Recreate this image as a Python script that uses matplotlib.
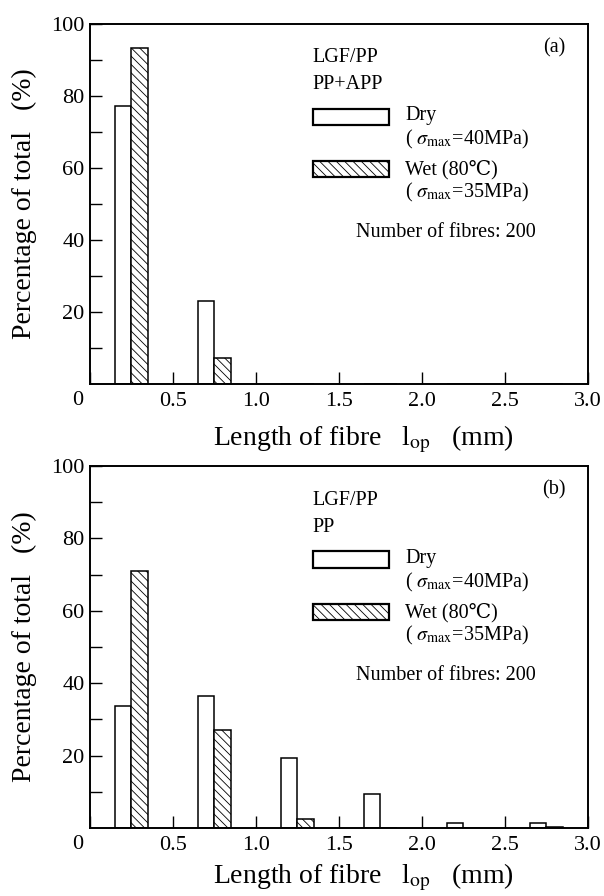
import numpy as np
import matplotlib
matplotlib.use('Agg')
import matplotlib.pyplot as plt
from matplotlib.patches import Rectangle

plt.rcParams['font.family'] = ['Liberation Serif', 'DejaVu Serif']
plt.rcParams['mathtext.fontset'] = 'stix'
plt.rcParams['hatch.linewidth'] = 0.6

# bin centres (mm) and percentages
centres = [0.25, 0.75, 1.25, 1.75, 2.25, 2.75]
a_dry = [77.2, 23.1, 0, 0, 0, 0]
a_wet = [93.2, 7.3, 0, 0, 0, 0]
b_dry = [33.6, 36.6, 19.2, 9.4, 1.4, 1.4]
b_wet = [71.1, 27.2, 2.5, 0, 0, 0.4]

panels = [('(a)', 'PP+APP', a_dry, a_wet, -0.11), ('(b)', 'PP', b_dry, b_wet, -0.094)]
xticks = [0, 0.5, 1.0, 1.5, 2.0, 2.5, 3.0]
xticklabels = ['', '0.5', '1.0', '1.5', '2.0', '2.5', '3.0']
yticks_major = [20, 40, 60, 80, 100]
yticks_minor = [10, 30, 50, 70, 90]

fig = plt.figure(figsize=(6.04, 8.96), dpi=100)
axes = [fig.add_axes([0.149, 0.5714, 0.8245, 0.4018]),
        fig.add_axes([0.149, 0.0759, 0.8245, 0.4040])]

bw = 0.1
for ax, (tag, matrix, dry, wet, xl_y) in zip(axes, panels):
    x = np.array(centres)
    ax.bar(x - bw / 2, dry, width=bw, facecolor='white', edgecolor='black', linewidth=1.1)
    ax.bar(x + bw / 2, wet, width=bw, facecolor='white', edgecolor='black', linewidth=1.1,
           hatch='\\\\\\\\')
    ax.set_xlim(0, 3.0)
    ax.set_ylim(0, 100)

    ax.set_xticks(xticks)
    ax.set_xticklabels(xticklabels)
    ax.set_yticks(yticks_major)
    ax.set_yticks(yticks_minor, minor=True)
    ax.tick_params(axis='both', which='both', direction='in', length=8.5, width=1.0,
                   labelsize=16, top=False, right=False)
    ax.tick_params(axis='x', pad=6)
    ax.tick_params(axis='y', pad=4)
    for sp in ax.spines.values():
        sp.set_linewidth(1.4)

    # shared origin label
    ax.text(-0.025, -0.045, '0', transform=ax.transAxes, fontsize=16,
            ha='center', va='center')

    ax.set_xlabel(r'Length of fibre   l$_{\rm op}$   (mm)', fontsize=20)
    ax.xaxis.set_label_coords(0.548, xl_y)
    ax.set_ylabel('Percentage of total   (%)', fontsize=20)
    ax.yaxis.set_label_coords(-0.106, 0.5)

    # legend block drawn by hand
    tr = ax.transAxes
    fs = 14.5
    ax.text(0.932, 0.933, tag, transform=tr, fontsize=fs, ha='center', va='center')
    ax.text(0.446, 0.906, 'LGF/PP', transform=tr, fontsize=fs, ha='left', va='center')
    ax.text(0.446, 0.831, matrix, transform=tr, fontsize=fs, ha='left', va='center')
    ax.add_patch(Rectangle((0.448, 0.719), 0.152, 0.045, transform=tr, facecolor='white',
                           edgecolor='black', linewidth=1.6, clip_on=False))
    ax.add_patch(Rectangle((0.448, 0.575), 0.152, 0.045, transform=tr, facecolor='white',
                           edgecolor='black', linewidth=1.6, hatch='\\\\\\\\', clip_on=False))
    ax.text(0.633, 0.745, 'Dry', transform=tr, fontsize=fs, ha='left', va='center')
    ax.text(0.633, 0.678, r'( $\sigma_{\rm max}$=40MPa)', transform=tr, fontsize=fs,
            ha='left', va='center')
    ax.text(0.633, 0.596, 'Wet (80\u2103)', transform=tr, fontsize=fs, ha='left', va='center')
    ax.text(0.633, 0.531, r'( $\sigma_{\rm max}$=35MPa)', transform=tr, fontsize=fs,
            ha='left', va='center')
    ax.text(0.534, 0.422, 'Number of fibres: 200', transform=tr, fontsize=fs,
            ha='left', va='center')

fig.savefig('out.png', dpi=100)
